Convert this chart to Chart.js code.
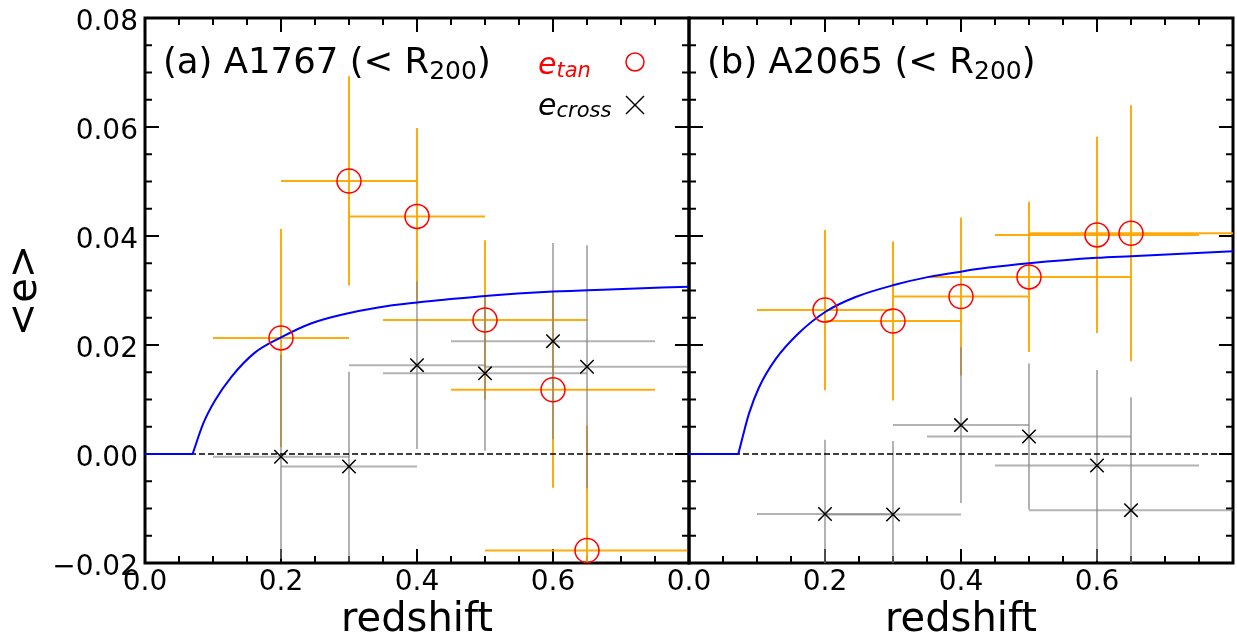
<!DOCTYPE html>
<html>
<head>
<meta charset="utf-8">
<script src="https://cdn.jsdelivr.net/npm/chart.js@4.4.1/dist/chart.umd.min.js"></script>
<style>
  html, body { margin: 0; padding: 0; background: #fff; }
  body { width: 1237px; height: 639px; position: relative; overflow: hidden; }
  canvas { position: absolute; top: 0; }
  #panelA { left: 0; }
  #panelB { left: 600px; }
</style>
</head>
<body>
<canvas id="panelA" width="720" height="639"></canvas>
<canvas id="panelB" width="637" height="639"></canvas>
<script>
// A1767: redshift bins (centre, lower edge, upper edge)
const zMidA  = [0.2, 0.3, 0.4, 0.5, 0.6, 0.65];
const zLowA  = [0.1, 0.2, 0.3, 0.35, 0.45, 0.5];
const zHighA = [0.3, 0.4, 0.5, 0.65, 0.75, 0.8];
const eTanA      = [0.0213, 0.0501, 0.0436, 0.0246, 0.0118, -0.0177];
const eTanErrA   = [0.0200, 0.0192, 0.0162, 0.0146, 0.0180, 0.0229];
const eCrossA    = [-0.0005, -0.0023, 0.0163, 0.0148, 0.0207, 0.0160];
const eCrossErrA = [0.0187, 0.0174, 0.0154, 0.0142, 0.0180, 0.0223];

// A2065
const zMidB  = [0.2, 0.3, 0.4, 0.5, 0.6, 0.65];
const zLowB  = [0.1, 0.2, 0.3, 0.35, 0.45, 0.5];
const zHighB = [0.3, 0.4, 0.5, 0.65, 0.75, 0.8];
const eTanB      = [0.0264, 0.0244, 0.0289, 0.0325, 0.0402, 0.0405];
const eTanErrB   = [0.0147, 0.0146, 0.0145, 0.0138, 0.0180, 0.0235];
const eCrossB    = [-0.0110, -0.0111, 0.0053, 0.0032, -0.0021, -0.0103];
const eCrossErrB = [0.0136, 0.0135, 0.0143, 0.0134, 0.0175, 0.0207];

// expected signal; zero below the cluster redshift (first two points)
const modelZA = [0, 0.07, 0.0857, 0.1029, 0.1274, 0.1616, 0.2, 0.245, 0.294, 0.343, 0.40, 0.44, 0.5, 0.6, 0.683, 0.8];
const modelEA = [0, 0, 0.0056, 0.0098, 0.0142, 0.0186, 0.0214, 0.0240, 0.0257, 0.0269, 0.0278, 0.0283, 0.0290, 0.0298, 0.0302, 0.0307];
const modelZB = [0, 0.0725, 0.0784, 0.0882, 0.1029, 0.1274, 0.1616, 0.2008, 0.245, 0.3012, 0.3527, 0.4016, 0.4408, 0.5, 0.6, 0.65, 0.8];
const modelEB = [0, 0, 0.0029, 0.0074, 0.0122, 0.0174, 0.0222, 0.0261, 0.0288, 0.0310, 0.0325, 0.0335, 0.0342, 0.0350, 0.0360, 0.0363, 0.0372];

const xTicks = [0, 0.2, 0.4, 0.6];
const xTickLabels = ['0.0', '0.2', '0.4', '0.6'];
const yTicks = [-0.02, 0, 0.02, 0.04, 0.06, 0.08];
const yTickLabels = ['\u22120.02', '0.00', '0.02', '0.04', '0.06', '0.08'];

const FONT = "'DejaVu Sans', sans-serif";
const ORANGE = 'rgba(255,165,0,0.95)';
const GREY = 'rgba(128,128,128,0.6)';

const pts = (xs, ys) => xs.map((v, i) => ({ x: v, y: ys[i] }));

function line(ctx, x1, y1, x2, y2) {
  ctx.beginPath(); ctx.moveTo(x1, y1); ctx.lineTo(x2, y2); ctx.stroke();
}

// frame with inward major/minor ticks on all four sides
const panelFrame = {
  id: 'panelFrame',
  beforeDatasetsDraw(chart) {
    const { ctx, chartArea: a, scales: { x, y } } = chart;
    ctx.save();
    ctx.strokeStyle = '#000';
    ctx.lineWidth = 2;
    for (let i = 0; i <= 16; i++) {
      const px = x.getPixelForValue(i * 0.05);
      const len = i % 4 === 0 ? 14 : 7;
      line(ctx, px, a.top, px, a.top + len);
      line(ctx, px, a.bottom, px, a.bottom - len);
    }
    for (let i = 0; i <= 20; i++) {
      const py = y.getPixelForValue(-0.02 + i * 0.005);
      const len = i % 4 === 0 ? 14 : 7;
      line(ctx, a.left, py, a.left + len, py);
      line(ctx, a.right, py, a.right - len, py);
    }
    ctx.lineWidth = 3;
    ctx.strokeRect(a.left, a.top, a.width, a.height);
    ctx.restore();
  }
};

// horizontal (bin width) and vertical (error) bars, drawn under the markers
const errorBars = {
  id: 'errorBars',
  beforeDatasetsDraw(chart, args, opts) {
    const { ctx, chartArea: a, scales: { x, y } } = chart;
    ctx.save();
    ctx.beginPath();
    ctx.rect(a.left, a.top, a.width, a.height);
    ctx.clip();
    ctx.lineWidth = 2;
    opts.sets.forEach(s => {
      ctx.strokeStyle = s.color;
      s.mid.forEach((z, i) => {
        const py = y.getPixelForValue(s.val[i]);
        const px = x.getPixelForValue(z);
        line(ctx, x.getPixelForValue(s.low[i]), py, x.getPixelForValue(s.high[i]), py);
        line(ctx, px, y.getPixelForValue(s.val[i] - s.err[i]), px, y.getPixelForValue(s.val[i] + s.err[i]));
      });
    });
    ctx.restore();
  }
};

function drawSub(ctx, x, y, main, sub, mainFont, subFont, drop) {
  ctx.font = mainFont;
  ctx.fillText(main, x, y);
  const w = ctx.measureText(main).width;
  ctx.font = subFont;
  ctx.fillText(sub, x + w, y + drop);
  return x + w + ctx.measureText(sub).width;
}

// tick labels, axis titles, panel title and legend
const panelText = {
  id: 'panelText',
  afterDraw(chart, args, o) {
    const { ctx, chartArea: a, scales: { x, y } } = chart;
    ctx.save();
    ctx.fillStyle = '#000';
    ctx.textBaseline = 'alphabetic';

    ctx.font = `28px ${FONT}`;
    ctx.textAlign = 'center';
    xTicks.forEach((v, i) => ctx.fillText(xTickLabels[i], x.getPixelForValue(v), a.bottom + 27));
    if (o.yLabels) {
      ctx.textAlign = 'right';
      yTicks.forEach((v, i) => ctx.fillText(yTickLabels[i], a.left - 7, y.getPixelForValue(v) + 11.5));
    }

    ctx.textAlign = 'center';
    ctx.font = `40px ${FONT}`;
    ctx.fillText('redshift', (a.left + a.right) / 2, 631);

    if (o.yTitle) {
      ctx.save();
      ctx.translate(35.5, (a.top + a.bottom) / 2);
      ctx.rotate(-Math.PI / 2);
      ctx.fillText('<e>', 0, 0);
      ctx.restore();
    }

    ctx.textAlign = 'left';
    const tx = drawSub(ctx, a.left + 18, 73, o.title, '200', `35.5px ${FONT}`, `25px ${FONT}`, 6);
    ctx.font = `35.5px ${FONT}`;
    ctx.fillText(')', tx, 73);

    if (o.legend) {
      ctx.fillStyle = '#ff0000';
      drawSub(ctx, 538, 73.5, 'e', 'tan', `italic 30px ${FONT}`, `italic 21px ${FONT}`, 3.5);
      ctx.strokeStyle = '#ff0000';
      ctx.lineWidth = 1.5;
      ctx.beginPath(); ctx.arc(635, 62, 9, 0, Math.PI * 2); ctx.stroke();

      ctx.fillStyle = '#000';
      drawSub(ctx, 538, 114.5, 'e', 'cross', `italic 30px ${FONT}`, `italic 21px ${FONT}`, 2.5);
      ctx.strokeStyle = '#000';
      line(ctx, 626, 96, 644, 114);
      line(ctx, 626, 114, 644, 96);
    }
    ctx.restore();
  }
};

function makePanel(id, d, padding, text) {
  const curve = {
    type: 'line',
    borderColor: '#0000ff',
    borderWidth: 2,
    pointRadius: 0,
    fill: false
  };
  return new Chart(document.getElementById(id), {
    type: 'scatter',
    data: {
      datasets: [
        {
          label: 'e_tan',
          data: pts(d.mid, d.tan),
          pointStyle: 'circle',
          pointRadius: 12,
          pointBorderWidth: 1.5,
          pointBorderColor: '#ff0000',
          pointBackgroundColor: 'rgba(0,0,0,0)'
        },
        {
          label: 'e_cross',
          data: pts(d.mid, d.cross),
          pointStyle: 'crossRot',
          pointRadius: 9.5,
          pointBorderWidth: 1.5,
          pointBorderColor: '#000'
        },
        Object.assign({ label: 'model', data: pts(d.modelZ.slice(1), d.modelE.slice(1)), cubicInterpolationMode: 'monotone' }, curve),
        Object.assign({ label: 'model (below cluster)', data: pts(d.modelZ.slice(0, 2), d.modelE.slice(0, 2)) }, curve),
        {
          type: 'line',
          label: 'zero',
          data: [{ x: 0, y: 0 }, { x: 0.8, y: 0 }],
          borderColor: '#000',
          borderWidth: 1.5,
          borderDash: [6, 3],
          pointRadius: 0,
          fill: false
        }
      ]
    },
    options: {
      responsive: false,
      animation: false,
      events: [],
      devicePixelRatio: 1,
      layout: { autoPadding: false, padding },
      scales: {
        x: { type: 'linear', min: 0, max: 0.8, display: false },
        y: { type: 'linear', min: -0.02, max: 0.08, display: false }
      },
      plugins: {
        legend: { display: false },
        tooltip: { enabled: false },
        errorBars: {
          sets: [
            { mid: d.mid, low: d.low, high: d.high, val: d.tan, err: d.tanErr, color: ORANGE },
            { mid: d.mid, low: d.low, high: d.high, val: d.cross, err: d.crossErr, color: GREY }
          ]
        },
        panelText: text
      }
    },
    plugins: [panelFrame, errorBars, panelText]
  });
}

makePanel('panelA', {
  mid: zMidA, low: zLowA, high: zHighA,
  tan: eTanA, tanErr: eTanErrA, cross: eCrossA, crossErr: eCrossErrA,
  modelZ: modelZA, modelE: modelEA
}, { left: 145, top: 18, right: 31, bottom: 76 },
{ yLabels: true, yTitle: true, legend: true, title: '(a) A1767 (< R' });

makePanel('panelB', {
  mid: zMidB, low: zLowB, high: zHighB,
  tan: eTanB, tanErr: eTanErrB, cross: eCrossB, crossErr: eCrossErrB,
  modelZ: modelZB, modelE: modelEB
}, { left: 89, top: 18, right: 4, bottom: 76 },
{ yLabels: false, yTitle: false, legend: false, title: '(b) A2065 (< R' });
</script>
</body>
</html>
